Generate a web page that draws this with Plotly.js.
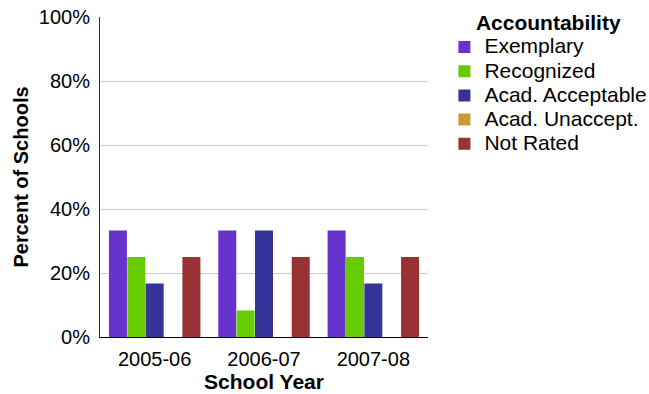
<!DOCTYPE html>
<html>
<head>
<meta charset="utf-8">
<script src="https://cdn.plot.ly/plotly-3.0.1.min.js"></script>
<style>html,body{margin:0;padding:0;background:#fff;}#chart{width:649px;height:394px;}</style>
</head>
<body>
<div id="chart"></div>
<script>
const years = ["2005-06", "2006-07", "2007-08"];
const exemplary = [33.3, 33.3, 33.3];
const recognized = [25, 8.3, 25];
const acadAcceptable = [16.7, 33.3, 16.7];
const acadUnaccept = [0, 0, 0];
const notRated = [25, 25, 25];
const yTickVals = [0, 20, 40, 60, 80, 100];
const yTickText = ["0%", "20%", "40%", "60%", "80%", "100%"];

const series = [
  {name: "Exemplary", y: exemplary, color: "#6633CC"},
  {name: "Recognized", y: recognized, color: "#66CC00"},
  {name: "Acad. Acceptable", y: acadAcceptable, color: "#333399"},
  {name: "Acad. Unaccept.", y: acadUnaccept, color: "#CC9933"},
  {name: "Not Rated", y: notRated, color: "#993333"}
];

const legendFontPx = 21;
const traces = series.map(s => ({
  type: "bar",
  name: '<span style="font-size:' + legendFontPx + 'px">' + s.name + '</span>',
  x: years,
  y: s.y,
  marker: {color: s.color},
  hoverinfo: "none"
}));

const font = "Liberation Sans, Arial, sans-serif";
const layout = {
  width: 649, height: 394,
  margin: {l: 100, r: 221, t: 17, b: 57, autoexpand: false},
  barmode: "group",
  bargap: 0.16,
  bargroupgap: 0.02,
  paper_bgcolor: "#fff",
  plot_bgcolor: "#fff",
  font: {family: font, size: 20, color: "#000"},
  xaxis: {
    type: "category",
    showline: true, linecolor: "#000", linewidth: 1,
    ticks: "", tickfont: {size: 20}, ticklabelstandoff: 4,
    automargin: false,
    title: {text: "<b>School Year</b>", font: {size: 21}, standoff: 0}
  },
  yaxis: {
    range: [0, 100], tickvals: yTickVals, ticktext: yTickText,
    showline: true, linecolor: "#333", linewidth: 1,
    gridcolor: "#cccccc", zeroline: false, ticks: "",
    tickfont: {size: 20}, ticklabelstandoff: 5,
    automargin: false,
    title: {text: "<b>Percent of Schools</b>", font: {size: 20}, standoff: 4}
  },
  legend: {
    x: 1.05, xanchor: "left", y: 1.045, yanchor: "top",
    font: {size: 16.3},
    title: {text: "<b>Accountability</b>", font: {size: 21}, side: "top center"},
    tracegroupgap: 0,
    itemwidth: 30
  },
  showlegend: true
};

Plotly.newPlot("chart", traces, layout, {displayModeBar: false, staticPlot: true});
</script>
</body>
</html>
